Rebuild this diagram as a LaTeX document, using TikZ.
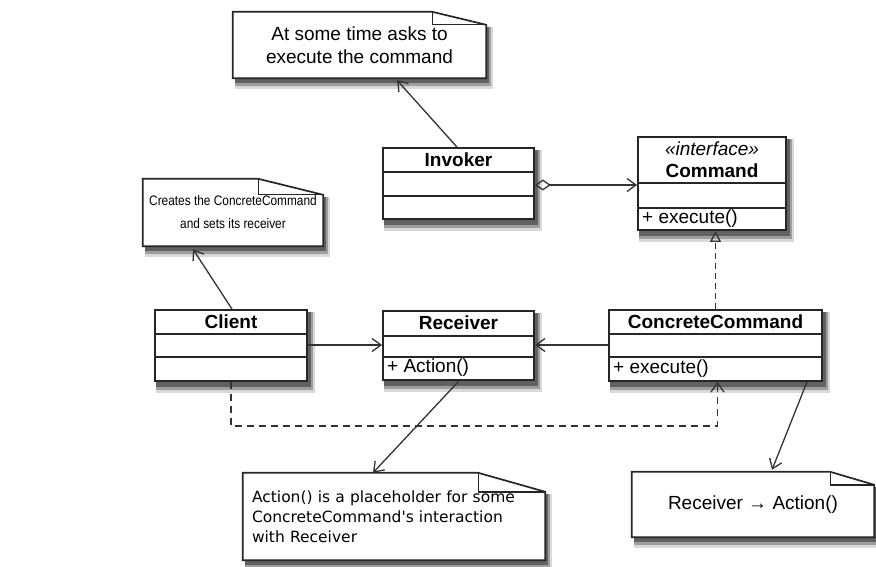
\documentclass[tikz,border=0pt]{standalone}
\usepackage{fontspec}
\setmainfont{Liberation Sans}
\newfontfamily\dejavu{DejaVu Sans}
\newfontfamily\narrowsans[FakeStretch=0.86]{Liberation Sans}
\usetikzlibrary{arrows.meta,backgrounds}

\newcommand\umlfont{\fontsize{19}{23}\selectfont}
% soft shadow under a box: node name, depth of the top cut
\newcommand\castshadow[2]{%
  \fill[black!15] ([xshift=2pt,yshift=-11pt]#1.south west) rectangle ([xshift=7pt,yshift=-#2]#1.north east);
  \fill[black!38] ([xshift=2pt,yshift=-8pt]#1.south west) rectangle ([xshift=5pt,yshift=-#2]#1.north east);
  \fill[black!62] ([xshift=2pt,yshift=-5pt]#1.south west) rectangle ([xshift=3pt,yshift=-#2]#1.north east);}
\tikzset{
  classbox/.style={draw=black!85, line width=1.8pt, fill=white, inner sep=0pt},
  divider/.style={draw=black!85, line width=1.4pt},
  notetext/.style={inner sep=0pt, align=center, font=\umlfont},
  noteline/.style={draw=black!85, line width=1.7pt, fill=white},
  assoc/.style={draw=black!80, line width=1.3pt, -{Straight Barb[length=9pt,width=13pt]}},
  aggr/.style={draw=black!80, line width=1.3pt,
    {Diamond[open,length=16pt,width=11pt]}-{Straight Barb[length=9pt,width=13pt]}},
  realize/.style={draw=black!80, line width=1.3pt, dash pattern=on 6pt off 4pt,
    -{Triangle[open,length=11pt,width=11pt]}},
  depend/.style={draw=black!80, line width=1.3pt, dash pattern=on 7pt off 5pt,
    -{Straight Barb[length=9pt,width=13pt]}}
}

\begin{document}
\begin{tikzpicture}[x=1pt,y=-1pt,font=\umlfont]
\useasboundingbox (0,0) rectangle (876,567);

% classes
\node[classbox, minimum width=151pt, minimum height=71pt] (invoker) at (458.5,183.5) {};
\draw[divider] (invoker.west |- 0,172) -- (invoker.east |- 0,172);
\draw[divider] (invoker.west |- 0,196) -- (invoker.east |- 0,196);
\node[font=\umlfont\bfseries] (invokername) at (458.5,160) {Invoker};

\node[classbox, minimum width=148pt, minimum height=93pt] (command) at (712,183.5) {};
\draw[divider] (command.west |- 0,183) -- (command.east |- 0,183);
\draw[divider] (command.west |- 0,208) -- (command.east |- 0,208);
\node[font=\umlfont\itshape] (commandstereo) at (712,149) {\textless\textless{}interface\textgreater\textgreater{}};
\node[font=\umlfont\bfseries] (commandname) at (712,171) {Command};
\node[anchor=west, inner sep=0pt] (commandop) at (642,219) {+ execute()};

\node[classbox, minimum width=152pt, minimum height=71pt] (client) at (231,345.5) {};
\draw[divider] (client.west |- 0,334) -- (client.east |- 0,334);
\draw[divider] (client.west |- 0,357) -- (client.east |- 0,357);
\node[font=\umlfont\bfseries] (clientname) at (231,322) {Client};

\node[classbox, minimum width=151pt, minimum height=69pt] (receiver) at (458.5,345.5) {};
\draw[divider] (receiver.west |- 0,336) -- (receiver.east |- 0,336);
\draw[divider] (receiver.west |- 0,357) -- (receiver.east |- 0,357);
\node[font=\umlfont\bfseries] (receivername) at (458.5,323) {Receiver};
\node[anchor=west, inner sep=0pt] (receiverop) at (387,368) {+ Action()};

\node[classbox, minimum width=213pt, minimum height=71pt] (concrete) at (715.5,345.5) {};
\draw[divider] (concrete.west |- 0,334) -- (concrete.east |- 0,334);
\draw[divider] (concrete.west |- 0,357) -- (concrete.east |- 0,357);
\node[font=\umlfont\bfseries] (concretename) at (715.5,322) {ConcreteCommand};
\node[anchor=west, inner sep=0pt] (concreteop) at (613,369) {+ execute()};

% notes
\node[notetext, minimum width=253pt, minimum height=66pt] (asknote) at (359.5,45)
  {At some time asks to\\execute the command};
\node[notetext, minimum width=180pt, minimum height=67pt, font=\narrowsans\fontsize{13.8}{23}\selectfont]
  (createnote) at (233,212.5) {Creates the ConcreteCommand\\and sets its receiver};
\node[notetext, align=left, text width=284pt, inner xsep=9pt, minimum height=87pt,
  font=\dejavu\fontsize{15.5}{20}\selectfont] (actionnote) at (394,516.5)
  {Action() is a placeholder for some\\ConcreteCommand's interaction\\with Receiver};
\node[notetext, minimum width=242pt, minimum height=65pt] (callnote) at (753,504.5)
  {Receiver → Action()};

\begin{scope}[on background layer]
\castshadow{invoker}{3pt}
\castshadow{command}{3pt}
\castshadow{client}{3pt}
\castshadow{receiver}{3pt}
\castshadow{concrete}{3pt}
\castshadow{asknote}{15pt}
\castshadow{createnote}{18pt}
\castshadow{actionnote}{21pt}
\castshadow{callnote}{15pt}
\draw[noteline] (asknote.north west) -- ([xshift=-54pt]asknote.north east)
  -- ([yshift=-13pt]asknote.north east) -- (asknote.south east) -- (asknote.south west) -- cycle;
\draw[divider] ([xshift=-54pt]asknote.north east) -- ([xshift=-54pt,yshift=-13pt]asknote.north east)
  -- ([yshift=-13pt]asknote.north east);
\draw[noteline] (createnote.north west) -- ([xshift=-65pt]createnote.north east)
  -- ([yshift=-16pt]createnote.north east) -- (createnote.south east) -- (createnote.south west) -- cycle;
\draw[divider] ([xshift=-65pt]createnote.north east) -- ([xshift=-65pt,yshift=-16pt]createnote.north east)
  -- ([yshift=-16pt]createnote.north east);
\draw[noteline] (actionnote.north west) -- ([xshift=-67pt]actionnote.north east)
  -- ([yshift=-19pt]actionnote.north east) -- (actionnote.south east) -- (actionnote.south west) -- cycle;
\draw[divider] ([xshift=-67pt]actionnote.north east) -- ([xshift=-67pt,yshift=-19pt]actionnote.north east)
  -- ([yshift=-19pt]actionnote.north east);
\draw[noteline] (callnote.north west) -- ([xshift=-44pt]callnote.north east)
  -- ([yshift=-13pt]callnote.north east) -- (callnote.south east) -- (callnote.south west) -- cycle;
\draw[divider] ([xshift=-44pt]callnote.north east) -- ([xshift=-44pt,yshift=-13pt]callnote.north east)
  -- ([yshift=-13pt]callnote.north east);
\end{scope}

% connectors
\draw[assoc] ([xshift=-1.5pt]invoker.north) -- ([xshift=37.5pt,yshift=-2pt]asknote.south);
\draw[assoc] ([xshift=1pt]client.north) -- ([xshift=-40pt,yshift=-3pt]createnote.south);
\draw[assoc] ([xshift=0.5pt]receiver.south) -- ([xshift=-21pt]actionnote.north);
\draw[assoc] ([xshift=91.5pt]concrete.south) -- ([xshift=19pt,yshift=2pt]callnote.north);
\draw[assoc] (client.east |- 0,345) -- (receiver.west |- 0,345);
\draw[assoc] (concrete.west |- 0,345) -- (receiver.east |- 0,345);
\draw[aggr] (invoker.east |- 0,185) -- (command.west |- 0,185);
\draw[realize] (concrete.north) -- (concrete.north |- command.south);
\draw[depend] (client.south) -- ++(0,44) -| ([xshift=2pt]concrete.south);
\end{tikzpicture}
\end{document}
